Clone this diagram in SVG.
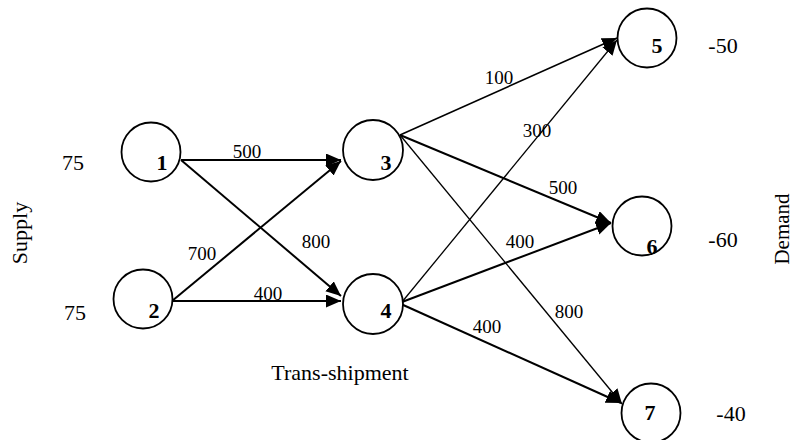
<svg xmlns="http://www.w3.org/2000/svg" width="793" height="440" viewBox="0 0 793 440">
  <style>
    .node { fill: #fff; stroke: #000; stroke-width: 1.8; }
    .nlab { font-family: "Liberation Serif", "Times New Roman", serif; font-weight: bold; font-size: 22px; text-anchor: middle; fill: #000; }
    .edge { stroke: #000; stroke-width: 2; fill: none; marker-end: url(#arrow); }
    .thin { stroke-width: 1.3; }
    .elab { font-family: "Liberation Serif", "Times New Roman", serif; font-size: 19px; text-anchor: middle; fill: #000; }
    .side { font-family: "Liberation Serif", "Times New Roman", serif; font-size: 22px; text-anchor: middle; fill: #000; }
  </style>
  <defs>
    <marker id="arrow" markerUnits="userSpaceOnUse" markerWidth="16" markerHeight="14" refX="15" refY="6.5" orient="auto">
      <path d="M0,0 L15,6.5 L0,13 Z" fill="#000"/>
    </marker>
  </defs>
  <rect width="793" height="440" fill="#fff"/>

  <!-- connectors -->
  <g id="connectors">
    <line class="edge" x1="181" y1="160" x2="341" y2="160"/>
    <line class="edge" x1="181" y1="160" x2="341" y2="296"/>
    <line class="edge" x1="172" y1="301" x2="341" y2="161"/>
    <line class="edge" x1="172" y1="301" x2="341" y2="301"/>
    <line class="edge" x1="400" y1="135" x2="617" y2="38" style="stroke-width:1.6"/>
    <line class="edge" x1="400" y1="135" x2="611" y2="223"/>
    <line class="edge thin" x1="400" y1="135" x2="622" y2="404"/>
    <line class="edge thin" x1="402" y1="302" x2="617" y2="40"/>
    <line class="edge" x1="402" y1="302" x2="611" y2="223"/>
    <line class="edge" x1="401" y1="304" x2="621" y2="403"/>
    <text class="elab" x="247" y="158">500</text>
    <text class="elab" x="316" y="248">800</text>
    <text class="elab" x="202" y="260">700</text>
    <text class="elab" x="268" y="300">400</text>
    <text class="elab" x="499" y="84">100</text>
    <text class="elab" x="537" y="137">300</text>
    <text class="elab" x="563" y="194">500</text>
    <text class="elab" x="520" y="248">400</text>
    <text class="elab" x="569" y="318">800</text>
    <text class="elab" x="487" y="333">400</text>
  </g>

  <!-- nodes -->
  <g id="node1"><circle class="node" cx="151" cy="152" r="29.5"/><text class="nlab" x="162" y="170">1</text></g>
  <g id="node2"><circle class="node" cx="143" cy="299" r="29.5"/><text class="nlab" x="154" y="318">2</text></g>
  <g id="node3"><circle class="node" cx="373" cy="150" r="30"/><text class="nlab" x="386" y="170">3</text></g>
  <g id="node4"><circle class="node" cx="373" cy="304" r="30"/><text class="nlab" x="386" y="318">4</text></g>
  <g id="node5"><circle class="node" cx="647" cy="38" r="29.5"/><text class="nlab" x="657" y="53">5</text></g>
  <g id="node6"><circle class="node" cx="642" cy="226" r="29.5"/><text class="nlab" x="652" y="254">6</text></g>
  <g id="node7"><circle class="node" cx="651" cy="413" r="29.5"/><text class="nlab" x="650" y="420">7</text></g>

  <!-- supply / demand annotations -->
  <g id="annotations">
    <text class="side" x="73" y="170">75</text>
    <text class="side" x="75" y="320">75</text>
    <text class="side" x="723" y="53">-50</text>
    <text class="side" x="723" y="247">-60</text>
    <text class="side" x="731" y="421">-40</text>
    <text class="side" x="340" y="380">Trans-shipment</text>
    <text class="side" transform="translate(27,233) rotate(-90)">Supply</text>
    <text class="side" style="font-size:21px" transform="translate(789,229) rotate(-90)">Demand</text>
  </g>
</svg>
